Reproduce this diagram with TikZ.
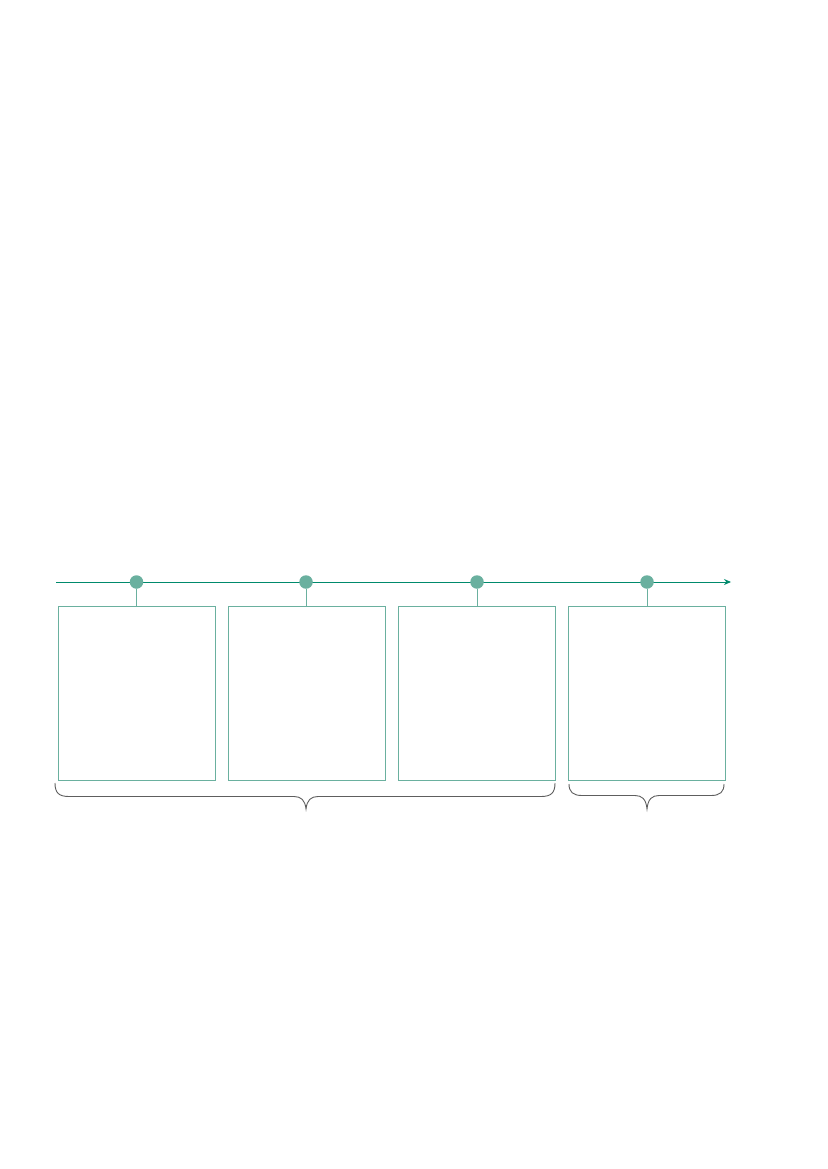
\documentclass[tikz,border=0pt]{standalone}
\usetikzlibrary{arrows.meta}
\definecolor{axisgreen}{HTML}{008A6C}
\definecolor{softgreen}{HTML}{6AB09F}
\definecolor{bracegray}{HTML}{5E5E5E}
\tikzset{
  axisline/.style={draw=axisgreen, line width=1pt, -{Stealth[length=7pt,width=6pt]}},
  dotmark/.style={circle, fill=softgreen, inner sep=0pt, minimum size=13.5pt},
  tick/.style={draw=softgreen, line width=1pt},
  periodbox/.style={draw=softgreen, line width=0.9pt, minimum width=157pt, minimum height=174pt, inner sep=0pt},
  bracestroke/.style={draw=bracegray, line width=0.9pt}
}
\begin{document}
\begin{tikzpicture}[x=1pt,y=-1pt]
\useasboundingbox (0,0) rectangle (827,1169);
% axis
\coordinate (axstart) at (56,582);
\coordinate (axend) at (731,582);
\draw[axisline] (axstart) -- (axend);
% boxes
\node[periodbox] (b1) at (136.5,693) {};
\node[periodbox] (b2) at (306.5,693) {};
\node[periodbox] (b3) at (476.5,693) {};
\node[periodbox] (b4) at (646.5,693) {};
% dots
\node[dotmark] (d1) at (136.5,582) {};
\node[dotmark] (d2) at (306,582) {};
\node[dotmark] (d3) at (477,582) {};
\node[dotmark] (d4) at (647,582) {};
% ticks
\draw[tick] (d1) -- (d1 |- b1.north);
\draw[tick] (d2) -- (d2 |- b2.north);
\draw[tick] (d3) -- (d3 |- b3.north);
\draw[tick] (d4) -- (d4 |- b4.north);
% braces
\coordinate (br1l) at (55,783);
\coordinate (br1r) at (555,783);
\coordinate (br1t) at (306,809);
\draw[bracestroke] (br1l) .. controls (55,793) and (59,796.5) .. (69,796.5)
  -- (294,796.5) .. controls (301,796.5) and (305,800) .. (br1t)
  .. controls (307,800) and (311,796.5) .. (318,796.5)
  -- (541,796.5) .. controls (551,796.5) and (555,793) .. (br1r);
\coordinate (br2l) at (569,784);
\coordinate (br2r) at (724,784);
\coordinate (br2t) at (647,809);
\draw[bracestroke] (br2l) .. controls (569,792) and (573,795.5) .. (582,795.5)
  -- (635,795.5) .. controls (642,795.5) and (646,799) .. (br2t)
  .. controls (648,799) and (652,795.5) .. (659,795.5)
  -- (711,795.5) .. controls (720,795.5) and (724,792) .. (br2r);
\end{tikzpicture}
\end{document}
